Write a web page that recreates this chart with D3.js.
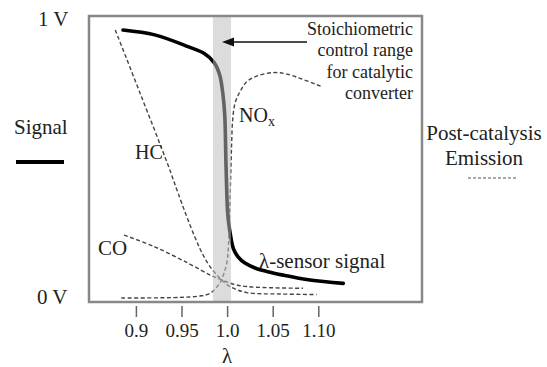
<!DOCTYPE html>
<html>
<head>
<meta charset="utf-8">
<script src="https://cdn.jsdelivr.net/npm/d3@7"></script>
<style>
  html, body { margin: 0; padding: 0; background: #fff; }
  svg { display: block; }
</style>
</head>
<body>
<div id="chart"></div>
<script>
// lambda values and signal / emission levels (0 V .. 1 V)
const signal = [
  [0.8859, 0.951], [0.9206, 0.934], [0.9571, 0.893], [0.9754, 0.868], [0.9856, 0.838],
  [0.9919, 0.794], [0.9955, 0.724], [0.9974, 0.654], [0.9988, 0.479], [1.0004, 0.322],
  [1.0013, 0.287], [1.0037, 0.234], [1.0070, 0.186], [1.0120, 0.158], [1.0196, 0.136],
  [1.0306, 0.119], [1.0434, 0.107], [1.0616, 0.094], [1.0909, 0.077], [1.1274, 0.065]
];
const hc = [
  [0.8774, 0.951], [0.9045, 0.731], [0.9352, 0.479], [0.9462, 0.381], [0.9645, 0.228],
  [0.9754, 0.154], [0.9845, 0.110], [0.9941, 0.077], [1.0032, 0.054], [1.0215, 0.033],
  [1.0580, 0.028], [1.0982, 0.026]
];
const co = [
  [0.8870, 0.234], [0.9206, 0.193], [0.9571, 0.136], [0.9823, 0.093], [0.9941, 0.077],
  [1.0087, 0.061], [1.0215, 0.054], [1.0470, 0.050], [1.0832, 0.048]
];
const nox = [
  [0.8840, 0.014], [0.9484, 0.016], [0.9703, 0.021], [0.9812, 0.030], [0.9886, 0.052],
  [0.9933, 0.073], [0.9966, 0.101], [0.9999, 0.140], [1.0015, 0.199], [1.0026, 0.287],
  [1.0035, 0.392], [1.0043, 0.479], [1.0050, 0.556], [1.0061, 0.636], [1.0087, 0.695],
  [1.0141, 0.735], [1.0215, 0.770], [1.0325, 0.790], [1.0507, 0.802], [1.0654, 0.797],
  [1.1037, 0.753]
];
const controlRange = [0.9845, 1.0043];
const tickValues = [0.9, 0.95, 1.0, 1.05, 1.10];
const tickLabels = ['0.9', '0.95', '1.0', '1.05', '1.10'];
const noteLines = ['Stoichiometric', 'control range', 'for catalytic', 'converter'];

const width = 547, height = 367;
const frame = {left: 89, top: 16, right: 422, bottom: 302};
const serif = "'Liberation Serif'";

const svg = d3.select('#chart').append('svg')
  .attr('width', width)
  .attr('height', height)
  .attr('font-family', serif)
  .attr('fill', '#222');

// small helper so every label gets the serif face directly
function label(xp, yp, txt, size, anchor) {
  return svg.append('text')
    .attr('x', xp).attr('y', yp)
    .attr('font-family', serif)
    .attr('font-size', size)
    .attr('text-anchor', anchor || 'start')
    .attr('fill', '#222')
    .text(txt);
}

const x = d3.scaleLinear().domain([0.9, 1.1]).range([135.9, 318.3]);
const y = d3.scaleLinear().domain([0, 1]).range([frame.bottom, frame.top]);

const line = d3.line()
  .x(d => x(d[0]))
  .y(d => y(d[1]))
  .curve(d3.curveCatmullRom.alpha(0.5));

// control range band (under)
svg.append('rect')
  .attr('x', x(controlRange[0]))
  .attr('y', frame.top)
  .attr('width', x(controlRange[1]) - x(controlRange[0]))
  .attr('height', frame.bottom - frame.top)
  .attr('fill', '#dcdcdc');

// emission curves
[hc, co, nox].forEach(series => {
  svg.append('path')
    .datum(series)
    .attr('d', line)
    .attr('fill', 'none')
    .attr('stroke', '#444')
    .attr('stroke-width', 1.4)
    .attr('stroke-dasharray', '4,2.5');
});

// sensor signal
svg.append('path')
  .datum(signal)
  .attr('d', line)
  .attr('fill', 'none')
  .attr('stroke', '#000')
  .attr('stroke-width', 3.6)
  .attr('stroke-linecap', 'round');

// band again, translucent, so curves look grey inside it
svg.append('rect')
  .attr('x', x(controlRange[0]))
  .attr('y', frame.top)
  .attr('width', x(controlRange[1]) - x(controlRange[0]))
  .attr('height', frame.bottom - frame.top)
  .attr('fill', '#dcdcdc')
  .attr('opacity', 0.45);

// frame
svg.append('rect')
  .attr('x', frame.left)
  .attr('y', frame.top)
  .attr('width', frame.right - frame.left)
  .attr('height', frame.bottom - frame.top)
  .attr('fill', 'none')
  .attr('stroke', '#888')
  .attr('stroke-width', 2.5);

// x axis
const axis = svg.append('g')
  .attr('transform', `translate(0,${frame.bottom + 4})`)
  .call(d3.axisBottom(x)
    .tickValues(tickValues)
    .tickFormat((d, i) => tickLabels[i])
    .tickSize(11)
    .tickPadding(7));
axis.attr('font-family', serif).attr('font-size', 19);
axis.select('.domain').remove();
axis.selectAll('line').attr('stroke', '#666').attr('stroke-width', 1.5);
axis.selectAll('text').attr('fill', '#222').attr('font-family', serif);

label(x(1.0), 363, 'λ', 21, 'middle');

// y labels
label(38, 26, '1 V', 21);
label(37, 304, '0 V', 21);

// left legend
label(14, 134, 'Signal', 21);
svg.append('line')
  .attr('x1', 16).attr('x2', 64).attr('y1', 162).attr('y2', 162)
  .attr('stroke', '#000').attr('stroke-width', 4);

// right legend
label(484, 140, 'Post-catalysis', 21, 'middle');
label(484, 165, 'Emission', 21, 'middle');
svg.append('line')
  .attr('x1', 468).attr('x2', 517).attr('y1', 178).attr('y2', 178)
  .attr('stroke', '#555').attr('stroke-width', 1.2)
  .attr('stroke-dasharray', '3,2');

// control range note
noteLines.forEach((t, i) => label(413, 35 + i * 21.4, t, 18, 'end'));

const tipX = (x(controlRange[0]) + x(controlRange[1])) / 2;
svg.append('line')
  .attr('x1', 307).attr('x2', tipX + 10).attr('y1', 42).attr('y2', 42)
  .attr('stroke', '#111').attr('stroke-width', 1.6);
svg.append('path')
  .attr('d', `M${tipX},42 L${tipX + 12},37.5 L${tipX + 12},46.5 Z`)
  .attr('fill', '#111');

// curve labels
const noxLabel = label(239, 122, 'NO', 20);
noxLabel.append('tspan').attr('dy', 4).attr('font-size', 14).text('x');

label(135, 159, 'HC', 20);
label(98, 255, 'CO', 21);
label(259, 268, 'λ-sensor signal', 21);
</script>
</body>
</html>
